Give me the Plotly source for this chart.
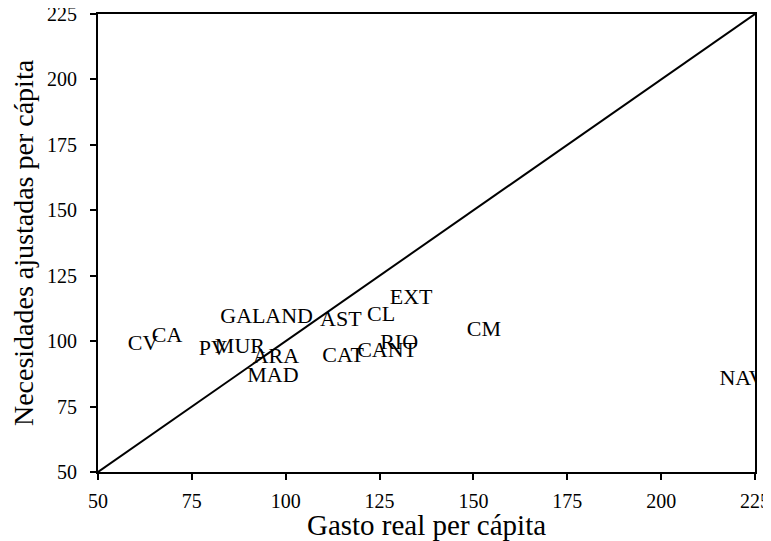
import plotly.graph_objects as go

regions = ["CV", "CA", "PV", "MUR", "GAL", "AND", "ARA", "MAD", "AST", "CL",
           "EXT", "CM", "RIO", "CANT", "CAT", "NAV"]
gasto = [62.0, 68.4, 80.6, 87.8, 88.6, 100.9, 97.4, 96.6, 114.7, 125.4,
         133.4, 152.8, 130.2, 127.0, 115.3, 221.5]
necesidades = [98.6, 101.7, 96.7, 97.5, 109.0, 109.0, 93.6, 86.4, 107.8, 109.7,
               116.2, 104.0, 99.0, 96.0, 94.0, 85.2]

diag = [50, 225]
ticks = [50, 75, 100, 125, 150, 175, 200, 225]

FONT = "Liberation Serif, Times New Roman, serif"

fig = go.Figure()
fig.add_trace(go.Scatter(x=diag, y=diag, mode="lines",
                         line=dict(color="black", width=2), hoverinfo="skip",
                         showlegend=False))
fig.add_trace(go.Scatter(x=gasto, y=necesidades, mode="text", text=regions,
                         textposition="middle center",
                         textfont=dict(family=FONT, size=22, color="black"),
                         showlegend=False))

axis_common = dict(range=[50, 225], tickvals=ticks, showgrid=False, zeroline=False,
                   showline=True, linecolor="black", linewidth=2, mirror=True,
                   ticks="outside", ticklen=6, tickwidth=2, tickcolor="black",
                   automargin=False, ticklabeloverflow="allow",
                   tickfont=dict(family=FONT, size=20, color="black"))

fig.update_layout(
    width=763, height=533,
    margin=dict(l=90, r=16, t=6, b=69),
    font=dict(family=FONT, color="black"),
    plot_bgcolor="white", paper_bgcolor="white",
    xaxis=dict(title=dict(text="Gasto real per cápita", standoff=1,
                          font=dict(family=FONT, size=29, color="black")),
               ticklabelstandoff=4, **axis_common),
    yaxis=dict(title=dict(text="Necesidades ajustadas per cápita", standoff=8,
                          font=dict(family=FONT, size=28, color="black")),
               ticklabelstandoff=9, **axis_common),
)

fig.write_html("out.html")
